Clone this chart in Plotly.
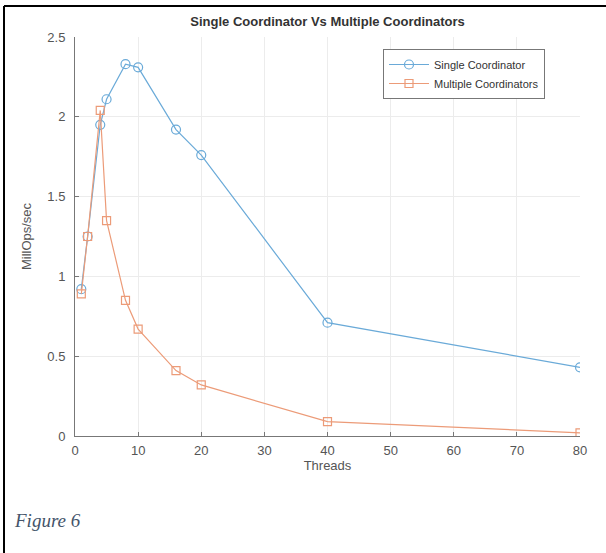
import plotly.graph_objects as go

threads = [1, 2, 4, 5, 8, 10, 16, 20, 40, 80]
single = [0.92, 1.25, 1.95, 2.11, 2.33, 2.31, 1.92, 1.76, 0.71, 0.43]
multiple = [0.89, 1.25, 2.04, 1.35, 0.85, 0.67, 0.41, 0.32, 0.09, 0.02]
x_ticks = [0, 10, 20, 30, 40, 50, 60, 70, 80]
y_ticks = [0, 0.5, 1, 1.5, 2, 2.5]
y_labels = ["0", "0.5", "1", "1.5", "2", "2.5"]

W, H = 606, 553
L, R, T, B = 75, 26, 37, 117
pw, ph = W - L - R, H - T - B

def px_x(p):
    return (p - L) / pw

def px_y(p):
    return (H - B - p) / ph

fig = go.Figure()
fig.add_trace(go.Scatter(
    x=threads, y=single, name="Single Coordinator", mode="lines+markers",
    line=dict(color="#6aaad8", width=1.2),
    marker=dict(symbol="circle-open", size=9, color="#6aaad8", line=dict(width=1.2)),
))
fig.add_trace(go.Scatter(
    x=threads, y=multiple, name="Multiple Coordinators", mode="lines+markers",
    line=dict(color="#ec9b78", width=1.2),
    marker=dict(symbol="square-open", size=8, color="#ec9b78", line=dict(width=1.2)),
))

axis_font = dict(family="Liberation Sans, Arial, sans-serif", size=13, color="#555555")
fig.update_layout(
    width=W, height=H,
    margin=dict(l=L, r=R, t=T, b=B, autoexpand=False),
    paper_bgcolor="white", plot_bgcolor="white",
    title=dict(text="<b>Single Coordinator Vs Multiple Coordinators</b>",
               x=0.5, xanchor="center", xref="paper", y=1 - 21 / H, yanchor="middle",
               font=dict(family="Liberation Sans, Arial, sans-serif", size=13, color="#333333")),
    xaxis=dict(range=[0, 80], tickvals=x_ticks, showgrid=True, gridcolor="#ececec",
               showline=True, linecolor="#777777", ticks="inside", ticklen=4,
               tickcolor="#777777", zeroline=False, tickfont=axis_font, automargin=False,
               ticklabelstandoff=2,
               title=dict(text="Threads", font=axis_font, standoff=4)),
    yaxis=dict(range=[0, 2.5], tickvals=y_ticks, ticktext=y_labels, showgrid=True,
               gridcolor="#ececec", showline=True, linecolor="#777777", ticks="inside",
               ticklen=4, tickcolor="#777777", zeroline=False, tickfont=axis_font,
               automargin=False, ticklabelstandoff=6,
               title=dict(text="MillOps/sec", font=axis_font, standoff=12)),
    legend=dict(x=px_x(383), y=px_y(49), xanchor="left", yanchor="top",
                bgcolor="white", bordercolor="#777777", borderwidth=1,
                font=dict(family="Liberation Sans, Arial, sans-serif", size=11, color="#333333"),
                tracegroupgap=0, itemwidth=40),
    showlegend=True,
)

fig.add_shape(type="line", xref="paper", yref="paper",
              x0=px_x(4), x1=px_x(606), y0=px_y(6), y1=px_y(6),
              line=dict(color="black", width=2))
fig.add_shape(type="line", xref="paper", yref="paper",
              x0=px_x(4), x1=px_x(4), y0=px_y(6), y1=px_y(553),
              line=dict(color="black", width=2))

fig.add_annotation(text="<i>Figure 6</i>", xref="paper", yref="paper",
                   x=px_x(12), y=px_y(520), xanchor="left", yanchor="middle",
                   showarrow=False,
                   font=dict(family="Liberation Serif, Times New Roman, serif", size=19, color="#44546a"))

fig.write_html("out.html", config={"displayModeBar": False},
               post_script="document.body.style.margin='0';document.body.style.overflow='hidden';")
